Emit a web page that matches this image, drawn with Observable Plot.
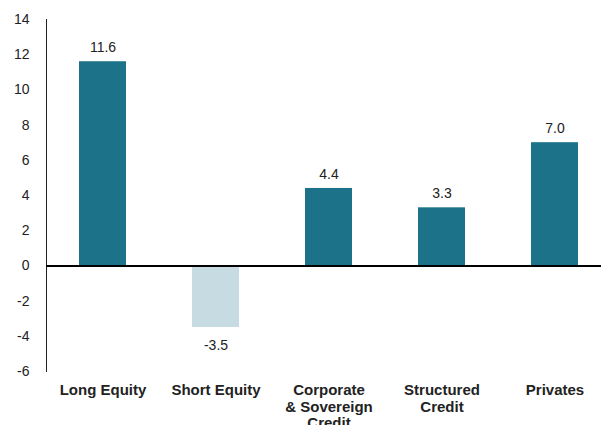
<!DOCTYPE html>
<html>
<head>
<meta charset="utf-8">
<script src="https://cdn.jsdelivr.net/npm/d3@7"></script>
<script src="https://cdn.jsdelivr.net/npm/@observablehq/plot@0.6"></script>
<style>
  html, body { margin: 0; padding: 0; background: #fff; }
  #chart svg { display: block; }
</style>
</head>
<body>
<div id="chart"></div>
<script>
const categories = ["Long Equity", "Short Equity", "Corporate\n& Sovereign\nCredit", "Structured\nCredit", "Privates"];
const values = [11.6, -3.5, 4.4, 3.3, 7.0];
const yTicks = [-6, -4, -2, 0, 2, 4, 6, 8, 10, 12, 14];

const data = categories.map((c, i) => ({category: c, value: values[i]}));
const dark = "#1b7289";
const light = "#c6dbe2";

const chart = Plot.plot({
  width: 601,
  height: 425,
  marginTop: 19,
  marginBottom: 54,
  marginLeft: 46,
  marginRight: 0,
  style: {fontFamily: "'Liberation Sans', Arial, Helvetica, sans-serif", color: "#222", background: "#fff"},
  x: {domain: categories, range: [46, 611], paddingInner: 0.58, paddingOuter: 0.29, label: null},
  y: {domain: [-6, 14], ticks: yTicks, label: null},
  marks: [
    Plot.barY(data, {x: "category", y: "value", fill: d => d.value < 0 ? light : dark}),
    Plot.frame({anchor: "left", stroke: "#222", strokeWidth: 1}),
    Plot.ruleY([0], {stroke: "#000", strokeWidth: 2}),
    Plot.axisY({ticks: yTicks, tickSize: 0, tickPadding: 17, fontSize: 14, tickFormat: d => String(d), label: null}),
    Plot.axisX({tickSize: 0, tickPadding: 12, fontSize: 15, fontWeight: "bold", lineHeight: 1.1, label: null}),
    Plot.text(data.filter(d => d.value >= 0), {x: "category", y: "value", text: d => d.value.toFixed(1), dy: -14, fontSize: 14, fill: "#222"}),
    Plot.text(data.filter(d => d.value < 0), {x: "category", y: "value", text: d => d.value.toFixed(1), dy: 18, fontSize: 14, fill: "#222"})
  ]
});
document.getElementById("chart").appendChild(chart);
</script>
</body>
</html>
